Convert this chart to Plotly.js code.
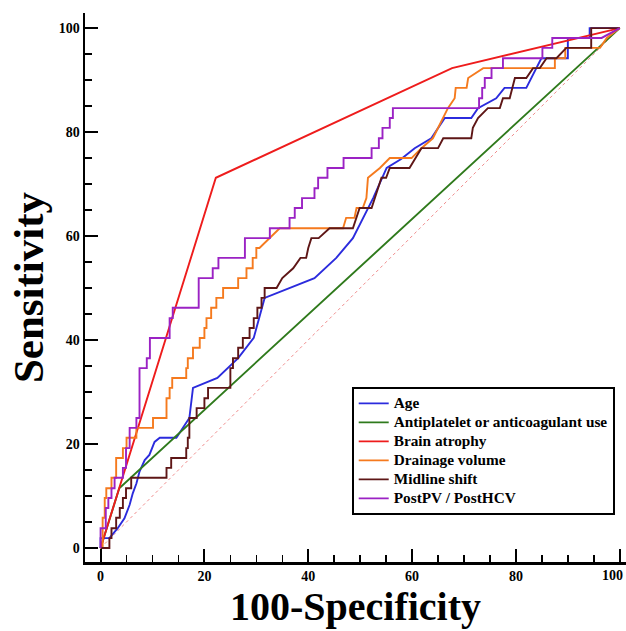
<!DOCTYPE html>
<html>
<head>
<meta charset="utf-8">
<script src="https://cdn.plot.ly/plotly-3.0.1.min.js"></script>
<style>html,body{margin:0;padding:0;background:#fff;}#chart{width:626px;height:631px;}</style>
</head>
<body>
<div id="chart"></div>
<script>
// ---- data (100-Specificity, Sensitivity) ----
var seriesNames = ["Age", "Antiplatelet or anticoagulant use", "Brain atrophy", "Drainage volume", "Midline shift", "PostPV / PostHCV"];

var ageX = [0, 0, 1.7, 3.3, 4.6, 5.6, 6.2, 6.9, 7.5, 8.5, 9.4, 10.4, 11.4, 14.6, 17.1, 17.8, 22.5, 26.5, 29.5, 31.6, 41.2, 45.4, 48.6, 52.5, 55.1, 57.9, 60.5, 63.7, 66.3, 71.4, 72.7, 76.2, 77.8, 82.0, 84.9, 89.4, 90.0, 90.0, 94.2, 94.2, 100];
var ageY = [0, 1.9, 1.9, 3.8, 5.7, 8.3, 10.5, 12.4, 14.7, 16.9, 17.9, 20.4, 21.2, 21.2, 25.0, 30.8, 32.7, 36.5, 40.4, 48.1, 51.9, 55.8, 59.6, 67.3, 73.1, 74.8, 76.9, 78.8, 82.7, 82.7, 84.6, 86.5, 88.5, 88.5, 94.2, 94.2, 94.2, 98.1, 98.1, 100, 100];

var antiX = [0, 3.6, 100];
var antiY = [0, 11.5, 100];

var atrophyX = [0, 22.2, 67.7, 100];
var atrophyY = [0, 71.2, 92.3, 100];

var drainX = [0, 0.4, 0.4, 0.8, 0.8, 1.1, 1.1, 2.1, 2.1, 3.0, 3.0, 4.3, 4.3, 5.0, 5.0, 6.9, 6.9, 10.1, 10.1, 12.7, 12.7, 13.3, 13.3, 13.8, 13.8, 16.5, 16.5, 16.8, 16.8, 17.8, 17.8, 19.1, 19.1, 20.0, 20.0, 20.4, 20.4, 21.3, 21.3, 22.3, 22.3, 23.6, 23.6, 26.5, 26.5, 28.1, 28.1, 29.3, 29.3, 30.0, 30.0, 30.6, 34.5, 46.7, 47.3, 48.9, 49.3, 50.5, 51.2, 51.5, 53.8, 55.7, 59.9, 61.8, 64.0, 66.9, 68.2, 68.4, 70.5, 70.8, 73.7, 87.5, 87.5, 89.5, 89.5, 96.2, 97.5, 100];
var drainY = [0, 0, 5.8, 5.8, 9.6, 9.6, 11.5, 11.5, 13.5, 13.5, 17.3, 17.3, 19.2, 19.2, 21.2, 21.2, 23.1, 23.1, 25.0, 25.0, 28.8, 28.8, 30.8, 30.8, 32.7, 32.7, 34.6, 34.6, 36.5, 36.5, 38.5, 38.5, 40.4, 40.4, 42.3, 42.3, 44.2, 44.2, 46.2, 46.2, 48.1, 48.1, 50.0, 50.0, 51.9, 51.9, 53.8, 53.8, 55.8, 55.8, 57.7, 57.7, 61.5, 61.5, 63.5, 63.5, 65.4, 65.4, 67.3, 71.2, 73.1, 75.0, 75.0, 76.9, 78.8, 84.6, 86.5, 88.5, 88.5, 90.4, 92.3, 92.3, 94.2, 94.2, 96.2, 96.2, 98.1, 100];

var midX = [0, 1.7, 1.7, 2.1, 2.1, 3.0, 3.0, 3.7, 3.7, 4.3, 4.3, 4.9, 4.9, 5.9, 5.9, 12.7, 12.7, 13.6, 13.6, 16.5, 16.5, 16.8, 16.8, 17.1, 17.1, 18.5, 18.5, 20.0, 20.0, 20.7, 20.7, 25.0, 25.0, 25.5, 25.5, 26.5, 26.5, 27.4, 27.4, 28.7, 28.7, 29.5, 29.5, 30.2, 30.2, 31.0, 31.0, 31.6, 31.6, 33.9, 35.0, 37.1, 38.5, 39.6, 40.0, 40.6, 42.0, 44.1, 48.6, 49.9, 52.2, 54.1, 55.0, 55.7, 59.5, 61.8, 65.0, 66.0, 71.4, 71.7, 72.7, 74.6, 76.9, 77.5, 78.8, 79.8, 82.0, 83.3, 84.6, 85.9, 87.8, 89.7, 94.5, 94.5, 100];
var midY = [0, 0, 1.9, 1.9, 3.8, 3.8, 5.8, 5.8, 7.7, 7.7, 9.6, 9.6, 11.5, 11.5, 13.5, 13.5, 15.4, 15.4, 17.3, 17.3, 19.2, 19.2, 21.2, 21.2, 25.0, 25.0, 26.9, 26.9, 28.8, 28.8, 30.8, 30.8, 34.6, 34.6, 36.5, 36.5, 38.5, 38.5, 40.4, 40.4, 42.3, 42.3, 44.2, 44.2, 46.2, 46.2, 48.1, 48.1, 50.0, 50.0, 51.9, 53.8, 55.8, 55.8, 57.7, 59.6, 59.6, 61.5, 61.5, 65.4, 65.4, 71.2, 71.2, 73.1, 73.1, 76.9, 76.9, 78.8, 78.8, 80.8, 82.7, 84.6, 84.6, 86.5, 86.5, 90.4, 90.4, 92.3, 92.3, 94.2, 94.2, 96.2, 96.2, 100, 100];

var postX = [0, 0, 1.0, 1.0, 1.5, 1.5, 2.1, 2.1, 2.7, 2.7, 4.3, 4.3, 4.9, 4.9, 5.6, 5.6, 6.9, 6.9, 7.5, 7.5, 8.9, 8.9, 9.5, 9.5, 13.3, 13.3, 13.9, 13.9, 18.9, 18.9, 21.6, 21.6, 22.7, 22.7, 27.8, 27.8, 32.6, 32.6, 36.4, 36.4, 37.4, 37.4, 38.8, 38.8, 41.2, 41.2, 41.9, 41.9, 43.7, 43.7, 46.8, 46.8, 52.2, 52.2, 53.6, 53.6, 54.3, 54.3, 55.7, 55.7, 56.3, 56.3, 72.9, 72.9, 73.5, 73.5, 74.0, 74.0, 75.3, 75.3, 77.5, 77.5, 85.1, 85.1, 87.0, 87.0, 96.5, 100];
var postY = [0, 3.8, 3.8, 7.7, 7.7, 9.6, 9.6, 11.5, 11.5, 13.5, 13.5, 15.4, 15.4, 19.2, 19.2, 23.1, 23.1, 25.0, 25.0, 34.6, 34.6, 36.5, 36.5, 40.4, 40.4, 44.2, 44.2, 46.2, 46.2, 51.9, 51.9, 53.8, 53.8, 55.8, 55.8, 59.6, 59.6, 61.5, 61.5, 63.5, 63.5, 65.4, 65.4, 67.3, 67.3, 69.2, 69.2, 71.2, 71.2, 73.1, 73.1, 75.0, 75.0, 76.9, 76.9, 78.8, 78.8, 80.8, 80.8, 82.7, 82.7, 84.6, 84.6, 86.5, 86.5, 88.5, 88.5, 90.4, 90.4, 92.3, 92.3, 94.2, 94.2, 96.2, 96.2, 98.1, 98.1, 100];

var refX = [0, 100];
var refY = [0, 100];

var tickVals = [0, 20, 40, 60, 80, 100];
var tickText = ["0", "20", "40", "60", "80", "100"];

var colors = ["#2b2bdd", "#2f7a1c", "#ee1c1c", "#f57a1e", "#5e1616", "#9b22c4"];

// ---- traces ----
var xs = [ageX, antiX, atrophyX, drainX, midX, postX];
var ys = [ageY, antiY, atrophyY, drainY, midY, postY];

var traces = [{
  x: refX, y: refY, mode: "lines", showlegend: false, hoverinfo: "skip",
  line: {color: "#f08c8c", width: 1, dash: "dot"}
}];
for (var i = 0; i < seriesNames.length; i++) {
  traces.push({
    x: xs[i], y: ys[i], mode: "lines",
    name: '<span style="font-size:15.3px">' + seriesNames[i] + '</span>',
    line: {color: colors[i], width: 1.9, shape: "linear"}
  });
}

// the last x tick label is drawn as an annotation nudged inside the page
var lastTick = tickVals[tickVals.length - 1];
var xTickText = tickText.slice();
xTickText[xTickText.length - 1] = "";

var serif = "Liberation Serif, Times New Roman, serif";

var layout = {
  width: 626, height: 631,
  margin: {l: 85, r: 0, t: 13, b: 69, pad: 0},
  paper_bgcolor: "#ffffff", plot_bgcolor: "#ffffff",
  font: {family: serif, color: "#000", size: 14, weight: "bold"},
  showlegend: true,
  legend: {
    x: 0.493, y: 0.319, xanchor: "left", yanchor: "top",
    bgcolor: "#ffffff", bordercolor: "#000", borderwidth: 2,
    font: {family: serif, size: 11.6, color: "#000", weight: "bold"},
    tracegroupgap: 0, itemwidth: 30
  },
  annotations: [{
    x: lastTick, xref: "x", y: 0, yref: "paper",
    xanchor: "center", yanchor: "top", xshift: -7, yshift: -5,
    text: tickText[tickText.length - 1], showarrow: false, borderpad: 0,
    font: {family: serif, size: 14, color: "#000", weight: "bold"}
  }],
  xaxis: {
    range: [-3, 101.2], showgrid: false, zeroline: false,
    showline: true, linecolor: "#000", linewidth: 2.5,
    ticks: "inside", ticklen: 13, tickwidth: 2, tickcolor: "#000",
    tickvals: tickVals, ticktext: xTickText,
    tickfont: {family: serif, size: 14, color: "#000", weight: "bold"},
    minor: {ticks: "inside", ticklen: 7, tickwidth: 1.5, tickcolor: "#000", dtick: 5, tick0: 0, showgrid: false},
    title: {text: "100-Specificity", font: {family: serif, size: 40, color: "#000", weight: "bold"}, standoff: 6},
    automargin: false, fixedrange: true
  },
  yaxis: {
    range: [-2.7, 102.9], showgrid: false, zeroline: false,
    showline: true, linecolor: "#000", linewidth: 2.5,
    ticks: "inside", ticklen: 13, tickwidth: 2, tickcolor: "#000",
    tickvals: tickVals, ticktext: tickText,
    tickfont: {family: serif, size: 14, color: "#000", weight: "bold"},
    minor: {ticks: "inside", ticklen: 7, tickwidth: 1.5, tickcolor: "#000", dtick: 5, tick0: 0, showgrid: false},
    title: {text: "Sensitivity", font: {family: serif, size: 43, color: "#000", weight: "bold"}, standoff: 2},
    automargin: false, fixedrange: true
  }
};

Plotly.newPlot("chart", traces, layout, {displayModeBar: false, staticPlot: true});
</script>
</body>
</html>
